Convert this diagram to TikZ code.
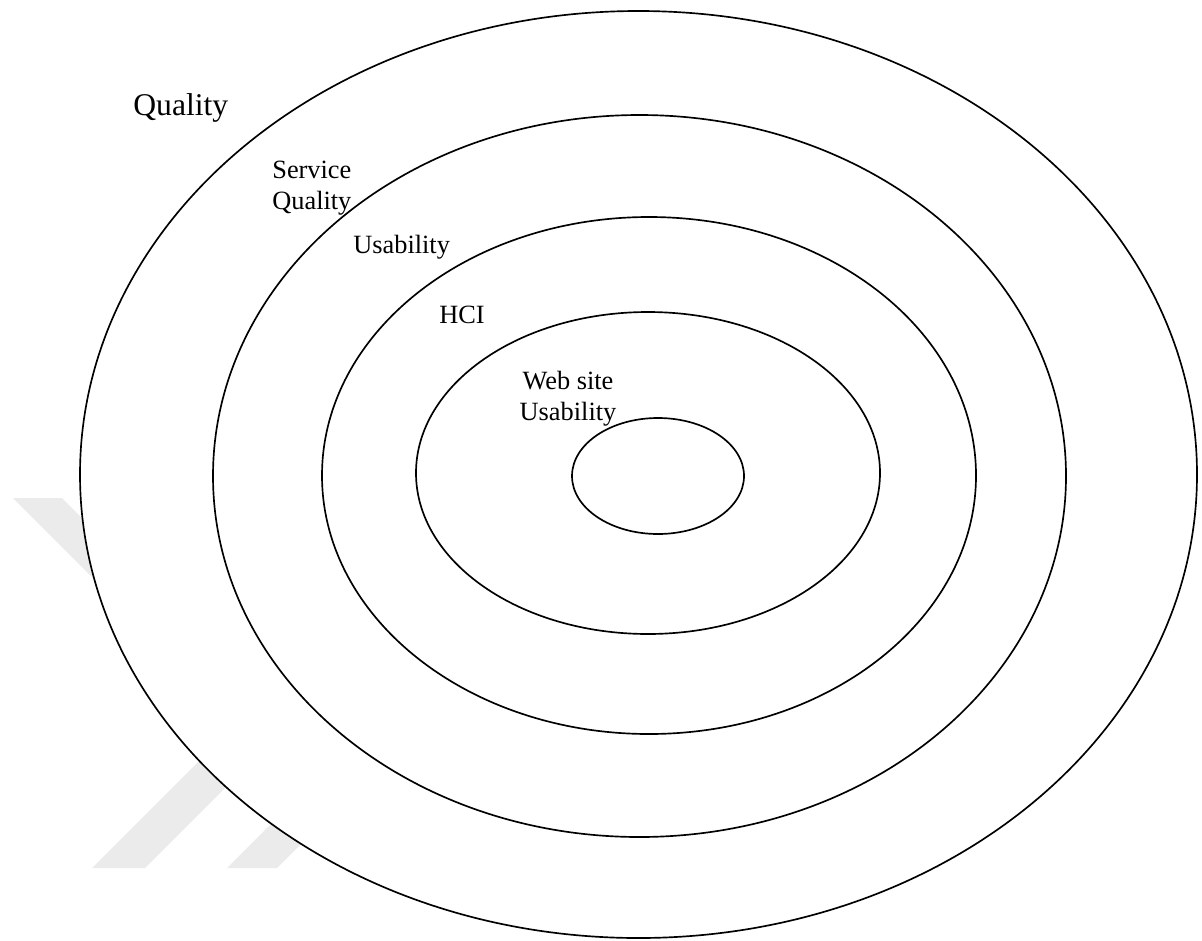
\documentclass[tikz,border=0pt]{standalone}
\usepackage{fontspec}
\setmainfont{Liberation Serif}
\begin{document}
\begin{tikzpicture}[x=0.02cm,y=0.02cm,
  ring/.style={line width=0.95pt,draw=black},
  wmark/.style={fill=black!8,draw=none},
  biglabel/.style={inner sep=0pt,anchor=base west,font=\fontsize{18}{21}\selectfont},
  label/.style={inner sep=0pt,font=\fontsize{15}{17.6}\selectfont}]
\useasboundingbox (0,0) rectangle (1202,-940);
% faint watermark strokes behind the rings
\fill[wmark] (13,-498) -- (62,-498) -- (212,-648) -- (163,-648) -- cycle;
\fill[wmark] (92,-868) -- (145,-868) -- (295,-718) -- (242,-718) -- cycle;
\fill[wmark] (227,-868) -- (277,-868) -- (427,-718) -- (377,-718) -- cycle;
\fill[wmark] (893,-868) -- (940,-868) -- (790,-718) -- (743,-718) -- cycle;
% rings
\filldraw[ring,fill=white] (638.5,-474.5) ellipse [x radius=558.5, y radius=463.5];
\draw[ring] (639.5,-476) ellipse [x radius=426.5, y radius=361];
\draw[ring] (649,-475.5) ellipse [x radius=327, y radius=258.5];
\draw[ring] (648,-473) ellipse [x radius=232, y radius=161];
\draw[ring] (658,-476) ellipse [x radius=86, y radius=58];
% labels
\node[biglabel] (quality) at (133,-115) {Quality};
\node[label,anchor=base west,align=left] (service) at (272,-209) {Service\\Quality};
\node[label,anchor=base west] (usability) at (353,-253) {Usability};
\node[label,anchor=base west] (hci) at (439,-323) {HCI};
\node[label,anchor=base,align=center] (web) at (568,-420) {Web site\\Usability};
\end{tikzpicture}
\end{document}
